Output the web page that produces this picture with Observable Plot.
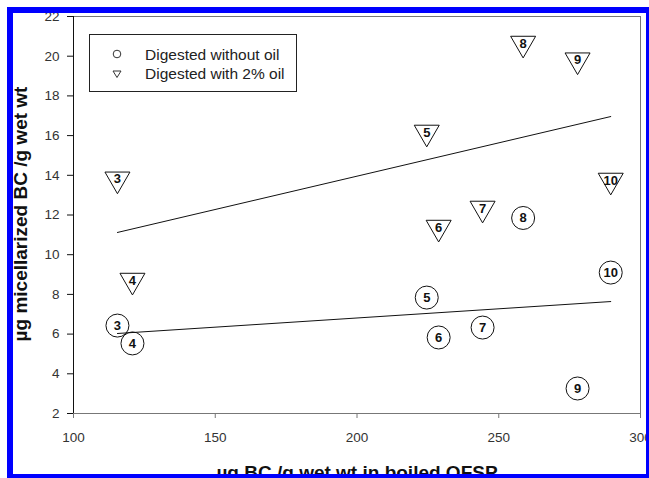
<!DOCTYPE html>
<html><head><meta charset="utf-8">
<script src="https://cdn.jsdelivr.net/npm/d3@7"></script>
<script src="https://cdn.jsdelivr.net/npm/@observablehq/plot@0.6"></script>
<style>
html,body{margin:0;padding:0;background:#fff;overflow:hidden;width:649px;height:478px;}
#chart{position:absolute;left:0;top:0;}
#border{position:absolute;left:7px;top:7px;width:645px;height:473px;border:6px solid #0000ff;box-sizing:border-box;pointer-events:none;}
</style></head><body>
<div id="chart"></div><div id="border"></div>
<script>
// ---- data ----
const sampleIds = [3, 4, 5, 6, 7, 8, 9, 10];
const bcBoiled = [115.5, 120.8, 224.6, 228.8, 244.3, 258.6, 277.8, 289.5];
const digestedNoOil = [6.43, 5.53, 7.84, 5.83, 6.33, 11.85, 3.26, 9.1];
const digestedWithOil = [13.8, 8.7, 16.16, 11.37, 12.33, 20.64, 19.8, 13.74];
const fitX = [115.5, 289.5];
const fitNoOil = [6.03, 7.64];
const fitWithOil = [11.12, 16.96];
const xDomain = [100, 300];
const yDomain = [2, 22];
const xTicks = [100, 150, 200, 250, 300];
const yTicks = [2, 4, 6, 8, 10, 12, 14, 16, 18, 20, 22];
const xLabel = "µg BC /g wet wt in boiled OFSP";
const yLabel = "µg micellarized BC /g wet wt";
const legendLabels = ["Digested without oil", "Digested with 2% oil"];

const noOilRows = sampleIds.map((id, i) => ({id, x: bcBoiled[i], y: digestedNoOil[i]}));
const oilRows = sampleIds.map((id, i) => ({id, x: bcBoiled[i], y: digestedWithOil[i]}));
const fitNoOilRows = fitX.map((x, i) => ({x, y: fitNoOil[i]}));
const fitOilRows = fitX.map((x, i) => ({x, y: fitWithOil[i]}));

const downTriangle = {
  draw(context, size) {
    const r = Math.sqrt(size / Math.PI);
    const h = r * Math.sqrt(3);
    context.moveTo(-r, -h / 3);
    context.lineTo(r, -h / 3);
    context.lineTo(0, 2 * h / 3);
    context.closePath();
  }
};

const font = "'Liberation Sans', Arial, Helvetica, sans-serif";

const chart = Plot.plot({
  width: 649, height: 478,
  marginLeft: 73, marginRight: 9, marginTop: 16, marginBottom: 65,
  style: {fontFamily: font, background: "transparent", color: "#222"},
  x: {domain: xDomain, ticks: xTicks},
  y: {domain: yDomain, ticks: yTicks},
  marks: [
    Plot.frame({stroke: "#777"}),
    Plot.ruleX([xDomain[0]], {stroke: "#111"}),
    Plot.axisX(xTicks, {tickSize: 5, tickPadding: 14, fontSize: 13.5, stroke: "#777", fill: "#333", label: null}),
    Plot.axisY(yTicks, {tickSize: 6, tickPadding: 8, fontSize: 13.5, stroke: "#111", fill: "#333", label: null}),
    Plot.text([xLabel], {frameAnchor: "bottom", lineAnchor: "top", textAnchor: "middle", dy: 52, fontSize: 19, fontWeight: "bold", fill: "#111", text: d => d}),
    Plot.text([yLabel], {frameAnchor: "left", lineAnchor: "middle", textAnchor: "middle", rotate: -90, dx: -53, dy: -1, fontSize: 19, fontWeight: "bold", fill: "#111", text: d => d}),
    Plot.dot(noOilRows, {x: "x", y: "y", r: 11.5, stroke: "#111", strokeWidth: 1, fill: "none"}),
    Plot.dot(oilRows, {x: "x", y: "y", r: 12.5, symbol: downTriangle, stroke: "#111", strokeWidth: 1, fill: "none"}),
    Plot.line(fitNoOilRows, {x: "x", y: "y", stroke: "#111", strokeWidth: 1}),
    Plot.line(fitOilRows, {x: "x", y: "y", stroke: "#111", strokeWidth: 1}),
    Plot.text(noOilRows, {x: "x", y: "y", text: "id", fontSize: 13, fontWeight: "bold", fill: "#111"}),
    Plot.text(oilRows, {x: "x", y: "y", text: "id", fontSize: 13, fontWeight: "bold", fill: "#111"})
  ]
});

// in-plot legend box
const svg = d3.select(chart);
const lg = svg.append("g").attr("font-family", font).attr("text-anchor", "start");
lg.append("rect").attr("x", 89.5).attr("y", 34.5).attr("width", 207).attr("height", 57)
  .attr("fill", "white").attr("stroke", "#222").attr("stroke-width", 1);
lg.append("circle").attr("cx", 117).attr("cy", 54).attr("r", 3.8)
  .attr("fill", "none").attr("stroke", "#333");
lg.append("path").attr("d", "M113,71L121,71L117,77.5Z")
  .attr("fill", "none").attr("stroke", "#333");
lg.selectAll("text.leg").data(legendLabels).join("text")
  .attr("x", 145).attr("y", (d, i) => 59.5 + i * 19.5)
  .attr("text-anchor", "start")
  .attr("font-size", 15.5).attr("fill", "#222").text(d => d);

document.getElementById("chart").appendChild(chart);
</script>
</body></html>
